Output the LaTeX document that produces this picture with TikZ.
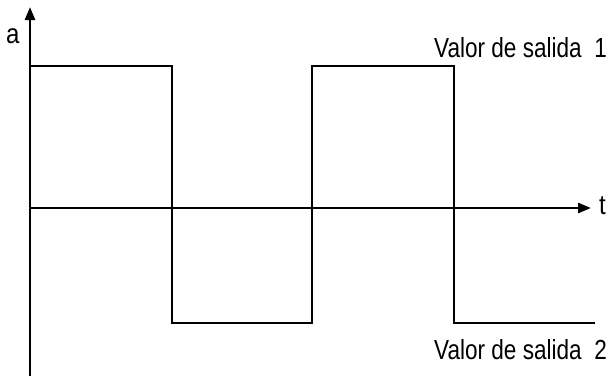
\documentclass[tikz,border=0pt]{standalone}
\usepackage{fontspec}
\setmainfont{Liberation Sans}
\usetikzlibrary{arrows.meta}
\begin{document}
\begin{tikzpicture}[x=1pt,y=-1pt,
  axis/.style={line width=2.6pt,-{Triangle[length=13pt,width=10pt]}},
  wave/.style={line width=2.6pt,line join=miter},
  lbl/.style={inner sep=0pt,anchor=base west,font=\fontsize{24}{28}\selectfont,yscale=1.15}]
\useasboundingbox (0,0) rectangle (616,376);
\coordinate (o) at (30,208);
\coordinate (ybot) at (30,376);
\coordinate (ytop) at (30,7);
\coordinate (xend) at (591,208);
\draw[axis] (ybot) -- (ytop);
\draw[axis] (o) -- (xend);
\draw[wave] (30,66) -- (172,66) -- (172,323) -- (312,323) -- (312,66) -- (454,66) -- (454,323) -- (595,323);
\node[lbl] (a) at (6,43) {a};
\node[lbl] (t) at (599,214) {t};
\node[lbl,xscale=0.94] (v1) at (434,57) {Valor de salida\ \ 1};
\node[lbl,xscale=0.94] (v2) at (434,359) {Valor de salida\ \ 2};
\end{tikzpicture}
\end{document}
